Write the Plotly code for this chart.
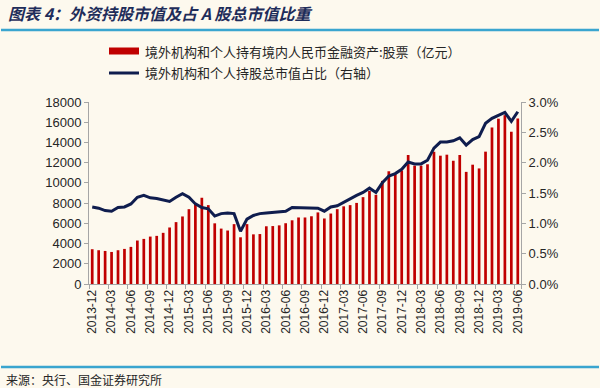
import plotly.graph_objects as go
import pandas as pd

# Categories: monthly, 2013-12 .. 2019-06
months = [d.strftime("%Y-%m") for d in pd.date_range("2013-12-01", "2019-06-01", freq="MS")]
tick_labels = months[::3]

# 境外机构和个人持有境内人民币金融资产:股票（亿元）
stock_holdings = [
    3440, 3340, 3270, 3170, 3340, 3470, 3670, 4300, 4460, 4690,
    4760, 5060, 5590, 6120, 6680, 7400, 7900, 8530, 7800, 6000,
    5480, 5290, 5920, 4620, 5920, 4910, 4940, 5710, 5730, 5800,
    6010, 6300, 6580, 6580, 6700, 7080, 6480, 6970, 7400, 7680,
    7800, 8020, 8590, 9200, 8820, 10200, 11150, 10850, 11220, 12760,
    11700, 11700, 11840, 13080, 12690, 12790, 12190, 12760, 11090, 11800,
    11430, 13090, 15480, 16350, 16700, 15060, 16370,
]

# 境外机构和个人持股总市值占比（右轴）, in %
share_pct = [
    1.27, 1.25, 1.21, 1.20, 1.26, 1.27, 1.32, 1.43, 1.46, 1.42,
    1.41, 1.39, 1.36, 1.43, 1.49, 1.43, 1.32, 1.26, 1.24, 1.12,
    1.16, 1.17, 1.16, 0.87, 1.07, 1.13, 1.16, 1.17, 1.18, 1.19,
    1.20, 1.26, 1.26, 1.26, 1.26, 1.25, 1.20, 1.27, 1.29, 1.35,
    1.40, 1.46, 1.51, 1.58, 1.51, 1.67, 1.78, 1.82, 1.89, 2.01,
    1.98, 1.98, 2.04, 2.24, 2.34, 2.34, 2.36, 2.41, 2.29, 2.38,
    2.43, 2.65, 2.73, 2.78, 2.83, 2.68, 2.84,
]
share = [v / 100 for v in share_pct]

bar_name = "境外机构和个人持有境内人民币金融资产:股票（亿元）"
line_name = "境外机构和个人持股总市值占比（右轴）"
title_text = "图表 4：外资持股市值及占 A 股总市值比重"
source_text = "来源：央行、国金证券研究所"

BG = "#FDF9EE"
RED = "#C00000"
NAVY = "#0F1D4E"
AXIS = "#A6A6A6"
TXT = "#262626"
RULE = "#3AA5CF"
CJK = "Noto Sans CJK SC"
LAT = "Liberation Sans, Arial"

fig = go.Figure()
fig.add_trace(go.Bar(x=months, y=stock_holdings, name=bar_name,
                     marker=dict(color=RED, line=dict(width=0)), yaxis="y"))
fig.add_trace(go.Scatter(x=months, y=share, name=line_name, mode="lines",
                         line=dict(color=NAVY, width=3), yaxis="y2"))

W, H = 600, 388
L, R, T, B = 89, 79, 102, 104
pw, ph = W - L - R, H - T - B

def px2paper(x, y):
    return (x - L) / pw, (H - B - y) / ph

fig.update_layout(
    width=W, height=H,
    margin=dict(l=L, r=R, t=T, b=B, pad=0),
    paper_bgcolor=BG, plot_bgcolor=BG,
    showlegend=False,
    bargap=0.58,
    font=dict(family=LAT, size=12, color=TXT),
    xaxis=dict(
        type="category", categoryorder="array", categoryarray=months,
        tickmode="array", tickvals=tick_labels, ticktext=tick_labels,
        tickangle=-90, tickson="boundaries", ticks="outside", ticklen=4,
        tickcolor=AXIS, showline=True, linecolor=AXIS, linewidth=1,
        showgrid=False, tickfont=dict(family=LAT, size=12, color=TXT),
        range=[-0.5, len(months) - 0.5],
    ),
    yaxis=dict(
        range=[0, 18000], dtick=2000, tickformat="d",
        showline=True, linecolor=AXIS, linewidth=1, ticks="outside",
        ticklen=4, tickcolor=AXIS, showgrid=False, zeroline=False,
        tickfont=dict(family=LAT, size=13, color=TXT),
    ),
    yaxis2=dict(
        range=[0, 0.03], dtick=0.005, tickformat=".1%", overlaying="y",
        side="right", showline=True, linecolor=AXIS, linewidth=1,
        ticks="outside", ticklen=4, tickcolor=AXIS, showgrid=False,
        zeroline=False, tickfont=dict(family=LAT, size=13, color=TXT),
    ),
)

shapes = []
annotations = []

# title and source separator rules
for yy in (30, 367):
    _, yp = px2paper(0, yy)
    for xa, xb in ((1, 300), (300, 599)):
        shapes.append(dict(type="line", xref="paper", yref="paper",
                           x0=px2paper(xa, 0)[0], x1=px2paper(xb, 0)[0], y0=yp, y1=yp,
                           line=dict(color=RULE, width=2.5)))
annotations.append(dict(xref="paper", yref="paper", x=px2paper(6, 0)[0], y=px2paper(0, 13)[1],
                        xanchor="left", yanchor="middle", showarrow=False, text=title_text,
                        font=dict(family=CJK, size=16, color="#1F2D5A", style="italic", weight=700)))
annotations.append(dict(xref="paper", yref="paper", x=px2paper(4, 0)[0], y=px2paper(0, 379)[1],
                        xanchor="left", yanchor="middle", showarrow=False, text=source_text,
                        font=dict(family=CJK, size=12, color=TXT)))

# custom legend
sx0, sx1 = px2paper(109, 0)[0], px2paper(139, 0)[0]
_, ya0 = px2paper(0, 47.5)
_, ya1 = px2paper(0, 54.5)
shapes.append(dict(type="rect", xref="paper", yref="paper", x0=sx0, x1=sx1, y0=ya1, y1=ya0,
                   fillcolor=RED, line=dict(width=0)))
_, yb = px2paper(0, 73)
shapes.append(dict(type="line", xref="paper", yref="paper", x0=sx0, x1=sx1, y0=yb, y1=yb,
                   line=dict(color=NAVY, width=3)))
tx = px2paper(143, 0)[0]
annotations.append(dict(xref="paper", yref="paper", x=tx, y=px2paper(0, 51)[1], xanchor="left",
                        yanchor="middle", showarrow=False, text=bar_name,
                        font=dict(family=CJK, size=13, color=TXT)))
annotations.append(dict(xref="paper", yref="paper", x=tx, y=yb, xanchor="left",
                        yanchor="middle", showarrow=False, text=line_name,
                        font=dict(family=CJK, size=13, color=TXT)))

fig.update_layout(shapes=shapes, annotations=annotations)
fig.write_html(
    "out.html",
    config={"displayModeBar": False},
    post_script="document.body.style.margin='0';document.body.style.padding='0';"
                "document.body.style.background='" + BG + "';document.body.style.overflow='hidden';",
)
